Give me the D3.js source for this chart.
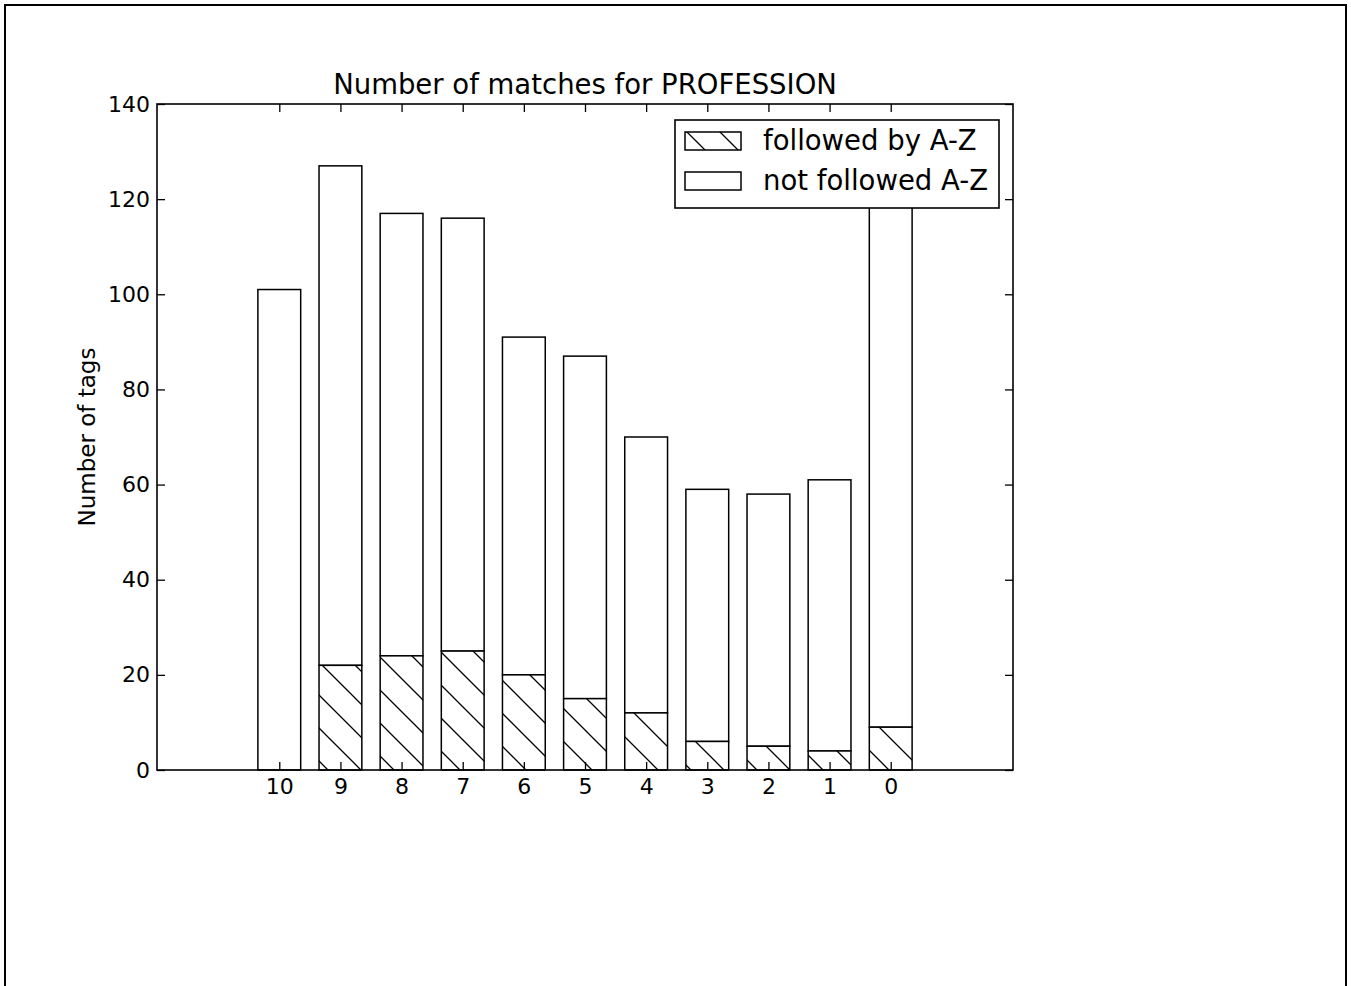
<!DOCTYPE html>
<meta charset="utf-8">
<style>
body { margin: 0; background: #fff; }
text { font-family: "DejaVu Sans", sans-serif; fill: #000; }
</style>
<svg width="1351" height="986"></svg>
<script src="https://cdn.jsdelivr.net/npm/d3@7"></script>
<script>

var categories = ["10", "9", "8", "7", "6", "5", "4", "3", "2", "1", "0"];
var followed = [0, 22, 24, 25, 20, 15, 12, 6, 5, 4, 9];
var totals = [101, 127, 117, 116, 91, 87, 70, 59, 58, 61, 132];
var yTicks = [0, 20, 40, 60, 80, 100, 120, 140];

var svg = d3.select("svg"),
    margin = {top: 104, right: 338, bottom: 216, left: 157},
    width = +svg.attr("width") - margin.left - margin.right,
    height = +svg.attr("height") - margin.top - margin.bottom;

// outer frame
svg.append("rect")
    .attr("x", 5).attr("y", 5)
    .attr("width", 1341).attr("height", 1000)
    .attr("fill", "none").attr("stroke", "#000").attr("stroke-width", 2);

var defs = svg.append("defs");
var pat = defs.append("pattern")
    .attr("id", "hatch")
    .attr("patternUnits", "userSpaceOnUse")
    .attr("width", 33).attr("height", 33);
pat.append("rect").attr("width", 33).attr("height", 33).attr("fill", "#fff");
pat.append("path")
    .attr("d", "M0,0L33,33M-8,25L8,41M25,-8L41,8")
    .attr("stroke", "#000").attr("stroke-width", 1.3);

var g = svg.append("g")
    .attr("transform", "translate(" + margin.left + "," + margin.top + ")");

var x = d3.scaleLinear().domain([-2, 12]).range([0, width]);
var y = d3.scaleLinear().domain([0, 140]).range([height, 0]);
var barW = x(0.7) - x(0);

var data = categories.map(function(c, i) {
  return {cat: c, i: i, f: followed[i], t: totals[i]};
});

// not followed (upper part)
g.selectAll(".top").data(data).enter().append("rect")
    .attr("x", function(d) { return x(d.i) - barW / 2; })
    .attr("y", function(d) { return y(d.t); })
    .attr("width", barW)
    .attr("height", function(d) { return y(d.f) - y(d.t); })
    .attr("fill", "#fff").attr("stroke", "#000").attr("stroke-width", 1.5);

// followed (hatched bottom)
g.selectAll(".bot").data(data.filter(function(d) { return d.f > 0; })).enter().append("rect")
    .attr("x", function(d) { return x(d.i) - barW / 2; })
    .attr("y", function(d) { return y(d.f); })
    .attr("width", barW)
    .attr("height", function(d) { return y(0) - y(d.f); })
    .attr("fill", "url(#hatch)").attr("stroke", "#000").attr("stroke-width", 1.5);

// axes with inward ticks
var xIdx = d3.range(categories.length);
g.append("g")
    .attr("transform", "translate(0," + height + ")")
    .call(d3.axisBottom(x).tickValues(xIdx).tickSize(-8).tickPadding(8)
      .tickFormat(function(i) { return categories[i]; }))
    .call(function(a) { a.select(".domain").remove(); a.selectAll("text").style("font-size", "22px"); });
g.append("g")
    .call(d3.axisTop(x).tickValues(xIdx).tickSize(-8).tickFormat(""))
    .call(function(a) { a.select(".domain").remove(); });
g.append("g")
    .call(d3.axisLeft(y).tickValues(yTicks).tickSize(-8).tickPadding(7))
    .call(function(a) { a.select(".domain").remove(); a.selectAll("text").style("font-size", "22px"); });
g.append("g")
    .attr("transform", "translate(" + width + ",0)")
    .call(d3.axisRight(y).tickValues(yTicks).tickSize(-8).tickFormat(""))
    .call(function(a) { a.select(".domain").remove(); });
g.selectAll(".tick line").attr("stroke", "#000").attr("stroke-width", 1.3);

g.append("rect")
    .attr("width", width).attr("height", height)
    .attr("fill", "none").attr("stroke", "#000").attr("stroke-width", 1.6);

// title and labels
g.append("text")
    .attr("x", width / 2).attr("y", -10)
    .attr("text-anchor", "middle")
    .style("font-size", "27.5px")
    .text("Number of matches for PROFESSION");

g.append("text")
    .attr("transform", "translate(-62," + height / 2 + ") rotate(-90)")
    .attr("text-anchor", "middle")
    .style("font-size", "23px")
    .text("Number of tags");

// legend
var lg = svg.append("g").attr("transform", "translate(675,120)");
lg.append("rect")
    .attr("width", 324).attr("height", 88)
    .attr("fill", "#fff").attr("stroke", "#000").attr("stroke-width", 1.6);
var items = [{label: "followed by A-Z", fill: "url(#hatch)"},
             {label: "not followed A-Z", fill: "#fff"}];
items.forEach(function(it, k) {
  lg.append("rect")
      .attr("x", 10).attr("y", 12 + k * 40)
      .attr("width", 56).attr("height", 18)
      .attr("fill", it.fill).attr("stroke", "#000").attr("stroke-width", 1.5);
  lg.append("text")
      .attr("x", 88).attr("y", 30 + k * 40)
      .style("font-size", "27.5px")
      .text(it.label);
});

</script>
